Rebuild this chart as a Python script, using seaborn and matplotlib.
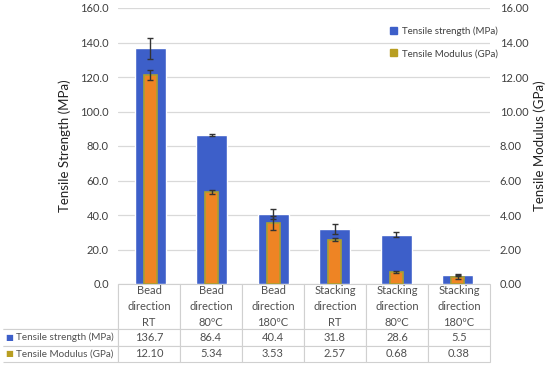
import matplotlib
matplotlib.use("Agg")
import matplotlib.pyplot as plt
import seaborn as sns
from matplotlib.patches import Patch

# data
cats = ["Bead\ndirection\nRT", "Bead\ndirection\n80ºC", "Bead\ndirection\n180ºC",
        "Stacking\ndirection\nRT", "Stacking\ndirection\n80ºC", "Stacking\ndirection\n180ºC"]
strength = [136.7, 86.4, 40.4, 31.8, 28.6, 5.5]
strength_err = [6.0, 0.5, 3.0, 3.0, 1.5, 0.5]
modulus = [12.10, 5.34, 3.53, 2.57, 0.68, 0.38]
modulus_err = [0.3, 0.12, 0.4, 0.1, 0.05, 0.1]
strength_txt = ["136.7", "86.4", "40.4", "31.8", "28.6", "5.5"]
modulus_txt = ["12.10", "5.34", "3.53", "2.57", "0.68", "0.38"]
row_names = ["Tensile strength (MPa)", "Tensile Modulus (GPa)"]

blue = "#3D5FC9"
orange = "#EE8424"
olive = "#A8A032"
gold = "#B89E22"
txt = "#404040"

sns.set_style("white")
plt.rcParams["font.family"] = ["Lato", "DejaVu Sans"]

fig = plt.figure(figsize=(5.5, 3.68), dpi=100)
ax = fig.add_axes([118 / 550, 1 - 284 / 368, 372 / 550, 276 / 368])

sns.barplot(x=cats, y=strength, color=blue, width=0.5, ax=ax, saturation=1)
ax.errorbar(range(len(cats)), strength, yerr=strength_err, fmt="none",
            ecolor="#333333", elinewidth=1, capsize=2.5, capthick=1)
ax.set_ylim(0, 160)
ax.set_yticks(range(0, 161, 20))
ax.set_yticklabels([f"{v:.1f}" for v in range(0, 161, 20)], color=txt, fontsize=8)
ax.yaxis.grid(True, color="#D9D9D9", linewidth=0.9)
ax.set_axisbelow(True)
ax.set_xticks([])
ax.set_xlabel("")
ax.set_ylabel("Tensile Strength (MPa)", fontsize=9.5, color="#222222", labelpad=7)
ax.tick_params(axis="y", length=0, pad=6.5)

ax2 = ax.twinx()
sns.barplot(x=cats, y=modulus, color=orange, width=0.21, ax=ax2, saturation=1,
            edgecolor=olive, linewidth=1.2)
ax2.errorbar(range(len(cats)), modulus, yerr=modulus_err, fmt="none",
             ecolor="#333333", elinewidth=1, capsize=2, capthick=1)
ax2.set_ylim(0, 16)
ax2.set_yticks(range(0, 17, 2))
ax2.set_yticklabels([f"{v:.2f}" for v in range(0, 17, 2)], color=txt, fontsize=8)
ax2.set_ylabel("Tensile Modulus (GPa)", fontsize=9.5, color="#222222", labelpad=4)
ax2.tick_params(axis="y", length=0, pad=7)
ax2.set_xticks([])

for a in (ax, ax2):
    for s in a.spines.values():
        s.set_visible(False)

handles = [Patch(color=blue), Patch(color=gold)]
leg = ax2.legend(handles, row_names, loc="upper right", bbox_to_anchor=(1.045, 0.965),
                 frameon=False, fontsize=7, labelspacing=1.35, handlelength=0.7,
                 handleheight=0.7, handletextpad=0.5)
for t in leg.get_texts():
    t.set_color(txt)

# data table below the plot
cell_text = [[row_names[0]] + strength_txt, [row_names[1]] + modulus_txt]
col_labels = [""] + cats
label_w = 115 / 372
col_w = [label_w] + [1 / 6] * 6
tab = ax.table(cellText=cell_text, colLabels=col_labels, colWidths=col_w,
               cellLoc="center", bbox=[-label_w, -78 / 276, 1 + label_w, 78 / 276])
tab.auto_set_font_size(False)
for (r, c), cell in tab.get_celld().items():
    cell.set_edgecolor("#D0D0D0")
    cell.set_linewidth(0.8)
    cell.get_text().set_color("#505050")
    cell.get_text().set_fontsize(7.1 if c == 0 else 8)
    if r == 0:
        cell.set_height(45)
        cell.get_text().set_linespacing(1.55)
        if c == 0:
            cell.visible_edges = "BR"
    else:
        cell.set_height(16.5)
        if c == 0:
            cell.visible_edges = "TBR"
            cell._loc = "left"
            cell.PAD = 0.11
            cell.get_text().set_ha("left")

for i, col in enumerate([blue, gold]):
    ax.text(-label_w + 0.005, -(45 + 16.5 * i + 8.25) / 276, "■",
            transform=ax.transAxes, color=col, fontsize=6, va="center", ha="left")

fig.savefig("out.png", dpi=100)
